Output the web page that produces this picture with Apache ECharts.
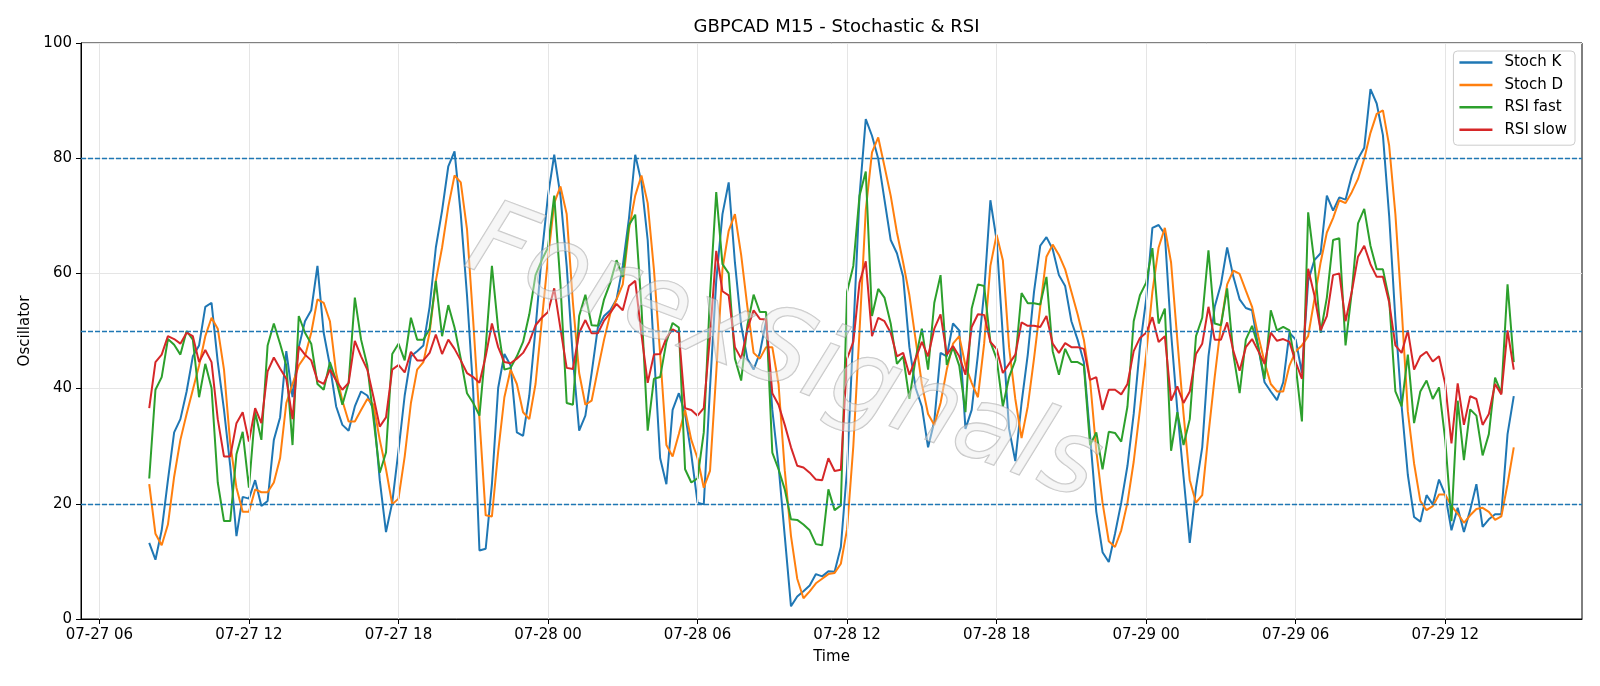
<!DOCTYPE html>
<html>
<head>
<meta charset="utf-8">
<script src="https://cdn.jsdelivr.net/npm/echarts@6/dist/echarts.min.js"></script>
<style>
  html, body { margin: 0; padding: 0; background: #fff; }
  #chart { width: 1600px; height: 686px; }
</style>
</head>
<body>
<div id="chart"></div>
<script>
// GBPCAD M15, 07-27 08:00 -> 07-29 14:45, one value per 15 min bar
var stochK = [
  13.2, 10.3, 15.4, 24.1, 32.4, 34.7, 39.5, 45.6, 47.5, 54.2, 54.9, 44.6, 36.3, 26.6, 14.4, 21.2, 20.9, 24.1, 19.6, 20.5, 31.1, 35,
  46.5, 38.5, 47.2, 51.7, 53.6, 61.3, 49.7, 44, 36.9, 33.7, 32.7, 36.9, 39.5, 38.8, 36.3, 24.1, 15.1, 20.2, 29.2, 38.8, 45.6, 46.5,
  47.5, 54.2, 64.5, 70.9, 78.6, 81.2, 70.3, 56.2, 39.5, 11.9, 12.2, 23.4, 40.1, 46, 44, 32.4, 31.8, 38.8, 50.4, 63.2, 73.5, 80.6,
  73.5, 61.3, 45.2, 32.7, 35.3, 42.7, 50.6, 52.6, 53.6, 55.5, 61.3, 69.6, 80.6, 75.8, 65.8, 46.5, 27.9, 23.4, 36.3, 39.2, 35.6, 28.6,
  20.2, 19.9, 40.1, 58.7, 70.3, 75.8, 61.9, 51, 45.2, 43.3, 46.2, 51.7, 36.3, 26.6, 14.4, 2.2, 3.9, 4.8, 5.8, 7.8, 7.4, 8.3,
  8.2, 12.5, 26, 49.7, 73.5, 86.8, 83.9, 79.9, 72.8, 65.8, 63.5, 59.4, 47.2, 40.1, 36.9, 29.8, 34.3, 46.2, 45.6, 51.3, 50.1, 33,
  36.3, 45.9, 56.8, 72.7, 65.8, 49.1, 33, 27.4, 37.5, 45.9, 56.8, 64.8, 66.3, 64.2, 59.7, 57.8, 51.7, 48.5, 44.6, 31.8, 18.6, 11.6,
  9.9, 14.8, 20.2, 26.6, 35.6, 47.2, 55.5, 67.9, 68.4, 66.8, 49.7, 36.3, 24.7, 13.2, 22.8, 29.8, 45.6, 54.2, 58.1, 64.5, 59.4, 55.5, 54,
  53.6, 47.2, 41.1, 39.5, 38, 41.1, 49.7, 48.5, 42.7, 58.7, 62.3, 63.5, 73.5, 70.9, 73.2, 72.8, 77, 79.9, 81.8, 92, 89.5, 84,
  70, 52, 37, 25, 17.7, 16.9, 21.5, 19.9, 24.2, 21.6, 15.4, 19.3, 15.1, 18.9, 23.4, 16, 17.3, 18.2, 18.2, 32.1, 38.7
];

var stochD = [
  23.4, 14.8, 12.8, 16.4, 24.7, 31.1, 35.6, 39.8, 44, 49.1, 52.3, 50.4, 43.3, 30.5, 22.8, 18.6, 18.6, 22.5, 22, 22, 23.7, 27.9,
  37.5, 40.8, 44, 45.6, 49.7, 55.5, 54.9, 51.7, 42.7, 37.9, 34.3, 34.3, 36.3, 38.2, 37.2, 31.1, 26, 19.9, 20.9, 28.2, 37.5, 43.3,
  44.6, 49.7, 58.7, 64.5, 71.6, 77, 75.8, 67.7, 51.7, 34.7, 18, 17.8, 29, 38.5, 43.3, 40.8, 35.9, 34.7, 40.8, 51.7, 62.6, 72.2,
  75.1, 70.3, 54.9, 42.7, 37.2, 37.9, 43.3, 48.5, 53, 55.5, 58.1, 67.7, 73.5, 77, 72.2, 60.7, 46, 30.2, 28.2, 32.1, 36.3, 31.1,
  27.9, 22.8, 25.7, 42.7, 60.7, 67.4, 70.3, 63.2, 54.2, 46.2, 45.2, 47.2, 47.2, 40.8, 25.8, 14.4, 7, 3.6, 4.8, 6.2, 7, 7.8,
  8, 9.6, 15.6, 30, 50, 71, 81, 83.6, 78.6, 73.5, 67.1, 61.9, 56.2, 48.5, 40.8, 35.6, 33.7, 37.5, 43.3, 47.8, 49.1, 44,
  41, 38.5, 47.8, 61.3, 66.7, 62.3, 47.2, 38.2, 31.4, 36.9, 45.2, 54.2, 62.9, 65, 63.2, 60.7, 56.8, 52.9, 48.5, 41.4, 29.2, 20.2,
  13.5, 12.5, 15.4, 20.2, 27.3, 36.3, 45.9, 56.8, 64.5, 67.9, 61.9, 48.5, 35.6, 24.1, 20.2, 21.5, 32.1, 42, 51, 58.1, 60.5, 59.9, 57,
  54.2, 49.1, 44.6, 40.8, 39.5, 39.5, 44, 46.5, 47.5, 49.1, 55.5, 61.9, 67.1, 69.6, 72.7, 72.2, 74.1, 76.4, 79.9, 84.4, 87.7, 88.3,
  82.2, 70.3, 54, 36, 27, 20.5, 18.9, 19.6, 21.6, 21.6, 19.6, 18.3, 16.7, 18, 19.1, 19.3, 18.6, 17.2, 17.8, 23.4, 29.8
];

var rsiFast = [
  24.4, 39.8, 42, 48.6, 47.6, 45.9, 50, 48.5, 38.5, 44.3, 40.1, 23.7, 17, 17, 28.6, 32.5, 22.8, 35.9, 31.1, 47.5, 51.3, 47.8,
  44, 30.2, 52.6, 49.7, 47.8, 40.8, 39.8, 44.6, 41.4, 37.2, 41, 55.8, 48.5, 44, 34.7, 25.4, 28.9, 46, 47.8, 44.9, 52.3, 48.5,
  48.5, 50.4, 58.7, 49.1, 54.5, 50.6, 45.2, 39.2, 37.5, 35.3, 47.2, 61.3, 50.4, 43.3, 43.6, 45.6, 48.1, 52.9, 59.7, 62.3, 64.5, 73.5,
  58.1, 37.5, 37.2, 52.6, 56.3, 51, 50.9, 55.5, 58.4, 62.3, 59.4, 68.4, 70.2, 54.2, 32.7, 41.7, 42, 48.1, 51.4, 50.6, 26, 23.7,
  24.4, 32.4, 56.2, 74.1, 61.6, 60, 45.2, 41.4, 51, 56.3, 53.3, 53.3, 28.9, 26, 22.5, 17.3, 17.2, 16.4, 15.4, 13, 12.8, 22.5,
  18.9, 19.7, 56.8, 61.3, 73.5, 77.7, 52.6, 57.3, 55.8, 51.3, 44.3, 45.6, 38.2, 45.2, 50.4, 43.3, 54.9, 59.7, 44.1, 47.2, 44, 35.9,
  53.9, 58.1, 57.8, 48.1, 45.2, 36.9, 42, 44.9, 56.6, 54.8, 54.8, 54.6, 59.4, 46.5, 42.4, 46.9, 44.6, 44.6, 44, 30.2, 32.4, 26,
  32.5, 32.3, 30.8, 36.9, 51.7, 56.2, 58.4, 64.4, 51.3, 53.9, 29.2, 35.9, 30.2, 34.7, 49.1, 52.3, 64, 51.3, 51, 57.4, 45.9, 39.2, 48.5,
  50.9, 47.2, 41.7, 53.6, 50.1, 50.7, 50.1, 44, 34.3, 70.6, 61.9, 49.7, 55.8, 65.8, 66.1, 47.5, 56.8, 68.7, 71.2, 64.8, 60.7, 60.7,
  55.5, 39.5, 36.9, 45.9, 34, 39.5, 41.4, 38.2, 40.2, 31.1, 17, 37.9, 27.6, 36.4, 35.3, 28.4, 32.1, 41.9, 39.2, 58.1, 44.6
];

var rsiSlow = [
  36.6, 44.6, 45.9, 49.1, 48.6, 47.8, 49.7, 49.1, 44.6, 46.7, 44.6, 34.7, 28.2, 28.2, 34, 35.9, 30.8, 36.6, 34, 43, 45.4, 43.5,
  41.7, 34.7, 47.3, 45.9, 44.9, 41.4, 40.8, 43.3, 41.4, 39.8, 41, 48.3, 45.6, 43.3, 38.5, 33.4, 35, 43.3, 44.1, 42.8, 46.4, 44.9,
  44.9, 46.2, 49.4, 46, 48.5, 46.9, 44.9, 42.7, 42, 41, 45.6, 51.3, 47.2, 44.6, 44.4, 45.2, 46.2, 48.1, 51, 52.3, 53.3, 57.4,
  50.4, 43.6, 43.4, 49.7, 51.9, 49.6, 49.6, 51.8, 53.2, 54.7, 53.6, 57.8, 58.7, 49.4, 41, 45.9, 46, 48.8, 50.3, 49.7, 36.6, 36.3,
  35.3, 36.6, 49.1, 63.9, 56.9, 56.2, 47.2, 45.2, 50.3, 53.6, 52.1, 52, 39.2, 37.2, 33.7, 29.8, 26.6, 26.3, 25.4, 24.2, 24.1, 27.9,
  25.7, 25.9, 45.2, 48.1, 58.4, 62.1, 49.1, 52.3, 51.7, 49.7, 45.6, 46.2, 42.4, 45.2, 48.1, 45.6, 50.4, 52.9, 45.9, 47.4, 45.6, 42.4,
  50.7, 52.9, 52.8, 48.1, 46.9, 42.7, 44.3, 45.9, 51.5, 50.9, 50.9, 50.7, 52.6, 47.8, 46.2, 47.9, 47.2, 47.2, 46.9, 41.5, 42, 36.3,
  39.8, 39.8, 39, 40.8, 46.5, 48.8, 49.7, 52.4, 48.1, 49.1, 37.9, 40.4, 37.5, 39.5, 46, 47.8, 54.2, 48.5, 48.5, 51.5, 46.5, 43.1, 47.2,
  48.6, 46.5, 44.3, 49.7, 48.3, 48.6, 48.1, 44.6, 41.7, 60.8, 56.2, 50.1, 52.6, 59.7, 60, 51.7, 56.8, 62.9, 64.8, 61.6, 59.4, 59.4,
  55, 47.5, 46.2, 50.1, 43.3, 45.6, 46.4, 44.7, 45.6, 40.8, 30.5, 40.9, 33.7, 38.7, 38.2, 33.7, 35.6, 40.8, 39, 50.1, 43.3
];

var seriesNames = ['Stoch K', 'Stoch D', 'RSI fast', 'RSI slow'];
var seriesColors = ['#1f77b4', '#ff7f0e', '#2ca02c', '#d62728'];
var levels = [20, 50, 80];
// hours counted from 07-27 00:00
var startHour = 8;
var stepHour = 0.25;
var tickHours = [6, 12, 18, 24, 30, 36, 42, 48, 54, 60];

var FONT = 'DejaVu Sans';

function toPairs(arr) {
  return arr.map(function (v, i) { return [startHour + i * stepHour, v]; });
}

function fmtTick(h) {
  var day = 27 + Math.floor(h / 24);
  var hh = h % 24;
  return '07-' + day + ' ' + (hh < 10 ? '0' : '') + hh;
}

var span = (stochK.length - 1) * stepHour;
var xMin = startHour - span * 0.05;
var xMax = startHour + span * 1.05;

var chart = echarts.init(document.getElementById('chart'));

var lineSeries = [stochK, stochD, rsiFast, rsiSlow].map(function (arr, k) {
  return {
    name: seriesNames[k],
    type: 'line',
    data: toPairs(arr),
    showSymbol: false,
    symbol: 'none',
    z: 3,
    lineStyle: { color: seriesColors[k], width: 2 },
    itemStyle: { color: seriesColors[k] }
  };
});

var option = {
  animation: false,
  backgroundColor: '#fff',
  title: {
    text: 'GBPCAD M15 - Stochastic & RSI',
    left: 831.5,
    top: 13,
    textAlign: 'center',
    textStyle: { fontFamily: FONT, fontSize: 18, fontWeight: 'normal', color: '#000' }
  },
  legend: {
    data: seriesNames,
    orient: 'vertical',
    right: 25,
    top: 51,
    icon: 'rect',
    itemWidth: 33,
    itemHeight: 2.5,
    itemGap: 7.4,
    padding: [4, 8, 8, 6],
    borderColor: '#cccccc',
    borderWidth: 1,
    borderRadius: 4,
    backgroundColor: 'rgba(255,255,255,0.8)',
    textStyle: { fontFamily: FONT, fontSize: 15, color: '#000', padding: [0, 0, 0, 7] }
  },
  grid: {
    left: 81, right: 18, top: 43, bottom: 67,
    show: true, borderColor: '#000', borderWidth: 1, backgroundColor: 'transparent'
  },
  xAxis: {
    type: 'value',
    min: xMin,
    max: xMax,
    name: 'Time',
    nameLocation: 'middle',
    nameGap: 31,
    nameTextStyle: { fontFamily: FONT, fontSize: 15, color: '#000' },
    axisLine: { show: true, onZero: false, lineStyle: { color: '#000', width: 1 } },
    axisTick: { show: true, customValues: tickHours, length: 5, lineStyle: { color: '#000' } },
    axisLabel: { customValues: tickHours, formatter: fmtTick, fontFamily: FONT, fontSize: 15, color: '#000', margin: 9 },
    splitLine: { show: false }
  },
  yAxis: {
    type: 'value',
    min: 0,
    max: 100,
    interval: 20,
    name: 'Oscillator',
    nameLocation: 'middle',
    nameRotate: 90,
    nameGap: 47,
    nameTextStyle: { fontFamily: FONT, fontSize: 15, color: '#000' },
    axisLine: { show: true, lineStyle: { color: '#000', width: 1 } },
    axisTick: { show: true, length: 5, lineStyle: { color: '#000' } },
    axisLabel: { fontFamily: FONT, fontSize: 15, color: '#000', margin: 9 },
    splitLine: { show: true, lineStyle: { color: '#e5e5e5', width: 1 } }
  },
  graphic: [{
    type: 'text',
    x: 783,
    y: 357,
    rotation: -0.36,
    z: 50,
    silent: true,
    style: {
      text: 'ForexSignals',
      font: 'italic 200 104px "DejaVu Sans"',
      fill: 'rgba(235,235,235,0.45)',
      stroke: 'rgba(150,150,150,0.55)',
      lineWidth: 1.3,
      shadowColor: 'rgba(120,120,120,0.35)',
      shadowBlur: 2,
      shadowOffsetX: 2,
      shadowOffsetY: 3,
      align: 'center',
      verticalAlign: 'middle'
    }
  }],
  series: [{
    name: 'vgrid',
    type: 'line',
    data: [],
    z: 1,
    silent: true,
    markLine: {
      silent: true,
      symbol: ['none', 'none'],
      label: { show: false },
      lineStyle: { color: '#e5e5e5', type: 'solid', width: 1 },
      data: tickHours.map(function (h) { return { xAxis: h }; })
    }
  }, {
    name: 'levels',
    type: 'line',
    data: [],
    z: 2,
    silent: true,
    markLine: {
      silent: true,
      symbol: ['none', 'none'],
      label: { show: false },
      lineStyle: { color: '#1f77b4', type: [5, 2], width: 1.3 },
      data: levels.map(function (v) { return { yAxis: v }; })
    }
  }].concat(lineSeries)
};

chart.setOption(option);
</script>
</body>
</html>
